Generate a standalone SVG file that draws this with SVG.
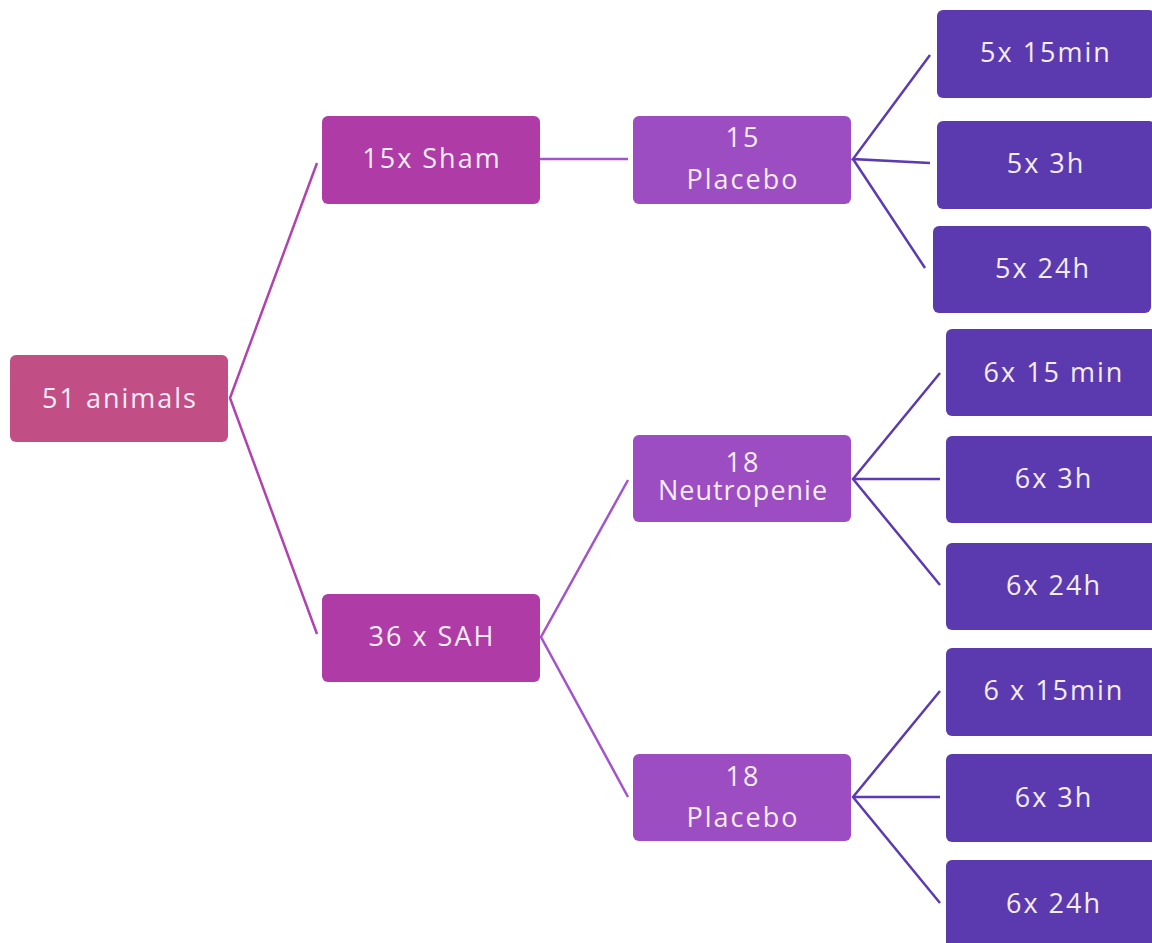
<svg xmlns="http://www.w3.org/2000/svg" width="1152" height="943" viewBox="0 0 1152 943">
<style>
text{font-family:"Open Sans","Liberation Sans",sans-serif;font-size:27px;fill:#F4ECF6;text-anchor:middle;letter-spacing:2px}
.root{fill:#C14F86}
.l1{fill:#AE3BA6}
.l2{fill:#9C4DC1}
.l3{fill:#5B3AAF}
.c1{stroke:#B042B2;stroke-width:2.5;fill:none}
.c2{stroke:#A353CB;stroke-width:2.5;fill:none}
.c3{stroke:#5B3AB2;stroke-width:2.5;fill:none}
</style>
<rect width="1152" height="943" fill="#FFFFFF"/>
<g id="connectors">
<polyline class="c1" points="317,163 230,398 317,634"/>
<line class="c2" x1="540" y1="159" x2="628" y2="159"/>
<polyline class="c2" points="628,480 541,637 628,797"/>
<polyline class="c3" points="930,55 853,159 930,163"/>
<line class="c3" x1="853" y1="159" x2="925" y2="268"/>
<polyline class="c3" points="940,373 853,479 940,585"/>
<line class="c3" x1="853" y1="479" x2="940" y2="479"/>
<polyline class="c3" points="940,691 853,797 940,903"/>
<line class="c3" x1="853" y1="797" x2="940" y2="797"/>
</g>
<g id="n-51animals"><rect class="root" x="10" y="355" width="218" height="87" rx="6"/><text x="120" y="408">51 animals</text></g>
<g id="n-sham"><rect class="l1" x="322" y="116" width="218" height="88" rx="6"/><text x="432" y="168">15x Sham</text></g>
<g id="n-sah"><rect class="l1" x="322" y="594" width="218" height="88" rx="6"/><text x="432" y="646">36 x SAH</text></g>
<g id="n-placebo15"><rect class="l2" x="633" y="116" width="218" height="88" rx="6"/><text x="743" y="147">15</text><text x="743" y="189">Placebo</text></g>
<g id="n-neutro18"><rect class="l2" x="633" y="435" width="218" height="87" rx="6"/><text x="743" y="472">18</text><text x="743" y="500" style="letter-spacing:1px">Neutropenie</text></g>
<g id="n-placebo18"><rect class="l2" x="633" y="754" width="218" height="87" rx="6"/><text x="743" y="786">18</text><text x="743" y="827">Placebo</text></g>
<g id="n-5x15min"><rect class="l3" x="937" y="10" width="218" height="88" rx="6"/><text x="1046" y="62">5x 15min</text></g>
<g id="n-5x3h"><rect class="l3" x="937" y="121" width="218" height="88" rx="6"/><text x="1046" y="173">5x 3h</text></g>
<g id="n-5x24h"><rect class="l3" x="933" y="226" width="218" height="87" rx="6"/><text x="1043" y="278">5x 24h</text></g>
<g id="n-6x15min-a"><rect class="l3" x="946" y="329" width="212" height="87" rx="6"/><text x="1054" y="382">6x 15 min</text></g>
<g id="n-6x3h-a"><rect class="l3" x="946" y="436" width="212" height="87" rx="6"/><text x="1054" y="488">6x 3h</text></g>
<g id="n-6x24h-a"><rect class="l3" x="946" y="543" width="212" height="87" rx="6"/><text x="1054" y="595">6x 24h</text></g>
<g id="n-6x15min-b"><rect class="l3" x="946" y="648" width="212" height="88" rx="6"/><text x="1054" y="700">6 x 15min</text></g>
<g id="n-6x3h-b"><rect class="l3" x="946" y="754" width="212" height="88" rx="6"/><text x="1054" y="807">6x 3h</text></g>
<g id="n-6x24h-b"><rect class="l3" x="946" y="860" width="212" height="90" rx="6"/><text x="1054" y="913">6x 24h</text></g>
</svg>
